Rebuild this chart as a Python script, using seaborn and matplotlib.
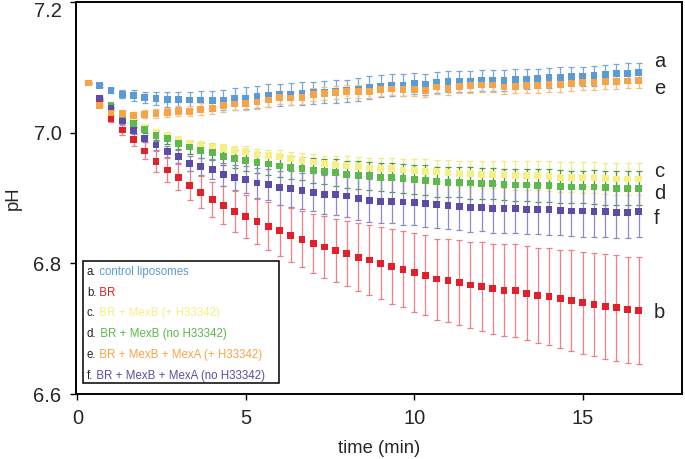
import numpy as np
import pandas as pd
import matplotlib
matplotlib.use("Agg")
import matplotlib.pyplot as plt
import seaborn as sns
from matplotlib.patches import Rectangle

sns.set_style("ticks")
plt.rcParams['font.family'] = ['Liberation Sans', 'DejaVu Sans']

# one reading every 20 s
time_min = np.arange(1, 51) / 3

# a. control liposomes
ph_a = [7.076, 7.072, 7.065, 7.059, 7.057, 7.054, 7.052, 7.051, 7.051, 7.050,
        7.050, 7.049, 7.050, 7.052, 7.053, 7.055, 7.057, 7.058, 7.059, 7.060,
        7.061, 7.062, 7.063, 7.064, 7.066, 7.069, 7.071, 7.073, 7.073, 7.075,
        7.074, 7.077, 7.078, 7.078, 7.078, 7.080, 7.080, 7.080, 7.082, 7.082,
        7.083, 7.084, 7.085, 7.086, 7.086, 7.087, 7.089, 7.090, 7.091, 7.092]
err_a = [0.000, 0.002, 0.004, 0.006, 0.008, 0.009, 0.010, 0.011, 0.012, 0.013,
         0.014, 0.015, 0.016, 0.017, 0.017, 0.017, 0.017, 0.017, 0.017, 0.017,
         0.017, 0.017, 0.017, 0.017, 0.017, 0.017, 0.017, 0.017, 0.017, 0.016,
         0.016, 0.016, 0.016, 0.016, 0.016, 0.016, 0.016, 0.016, 0.015, 0.015,
         0.015, 0.015, 0.015, 0.015, 0.015, 0.015, 0.015, 0.015, 0.015, 0.015]

# b. BR
ph_b = [7.076, 7.045, 7.021, 7.004, 6.989, 6.972, 6.956, 6.943, 6.932, 6.919,
        6.909, 6.898, 6.889, 6.879, 6.872, 6.864, 6.857, 6.850, 6.843, 6.837,
        6.830, 6.825, 6.820, 6.815, 6.809, 6.805, 6.800, 6.795, 6.791, 6.786,
        6.782, 6.776, 6.774, 6.771, 6.767, 6.764, 6.761, 6.759, 6.758, 6.754,
        6.751, 6.749, 6.746, 6.743, 6.740, 6.737, 6.734, 6.732, 6.729, 6.728]
err_b = [0.000, 0.003, 0.005, 0.007, 0.010, 0.013, 0.016, 0.018, 0.020, 0.022,
         0.024, 0.027, 0.029, 0.031, 0.033, 0.035, 0.037, 0.039, 0.041, 0.043,
         0.045, 0.047, 0.048, 0.050, 0.052, 0.054, 0.055, 0.057, 0.058, 0.060,
         0.061, 0.062, 0.064, 0.065, 0.066, 0.068, 0.069, 0.070, 0.071, 0.072,
         0.073, 0.074, 0.075, 0.077, 0.078, 0.079, 0.080, 0.081, 0.081, 0.082]

# c. BR + MexB (+ H33342)
ph_c = [7.076, 7.052, 7.042, 7.026, 7.016, 7.008, 7.001, 6.996, 6.990, 6.984,
        6.981, 6.978, 6.976, 6.973, 6.971, 6.967, 6.965, 6.963, 6.960, 6.958,
        6.955, 6.953, 6.951, 6.950, 6.948, 6.946, 6.945, 6.945, 6.943, 6.942,
        6.941, 6.940, 6.939, 6.938, 6.937, 6.936, 6.936, 6.936, 6.935, 6.935,
        6.934, 6.933, 6.932, 6.932, 6.931, 6.931, 6.930, 6.929, 6.929, 6.929]
err_c = [0.000, 0.002, 0.002, 0.003, 0.003, 0.004, 0.004, 0.005, 0.005, 0.005,
         0.006, 0.006, 0.006, 0.007, 0.008, 0.008, 0.009, 0.010, 0.010, 0.011,
         0.012, 0.012, 0.013, 0.014, 0.015, 0.015, 0.016, 0.016, 0.017, 0.017,
         0.018, 0.018, 0.019, 0.019, 0.020, 0.020, 0.021, 0.021, 0.022, 0.022,
         0.022, 0.023, 0.023, 0.023, 0.024, 0.024, 0.024, 0.025, 0.025, 0.025]

# d. BR + MexB (no H33342)
ph_d = [7.076, 7.050, 7.041, 7.025, 7.014, 7.005, 6.996, 6.991, 6.984, 6.978,
        6.973, 6.970, 6.964, 6.960, 6.957, 6.954, 6.952, 6.949, 6.947, 6.945,
        6.942, 6.940, 6.939, 6.936, 6.935, 6.934, 6.932, 6.931, 6.930, 6.928,
        6.927, 6.925, 6.924, 6.924, 6.923, 6.922, 6.922, 6.921, 6.920, 6.920,
        6.919, 6.919, 6.918, 6.917, 6.917, 6.917, 6.916, 6.915, 6.915, 6.915]
err_d = [0.000, 0.002, 0.003, 0.004, 0.005, 0.006, 0.007, 0.008, 0.009, 0.010,
         0.011, 0.012, 0.013, 0.014, 0.015, 0.016, 0.017, 0.017, 0.018, 0.018,
         0.019, 0.019, 0.020, 0.020, 0.021, 0.021, 0.021, 0.022, 0.022, 0.022,
         0.023, 0.023, 0.023, 0.023, 0.024, 0.024, 0.024, 0.024, 0.024, 0.025,
         0.025, 0.025, 0.025, 0.025, 0.025, 0.026, 0.026, 0.026, 0.026, 0.026]

# e. BR + MexB + MexA (+ H33342)
ph_e = [7.076, 7.042, 7.030, 7.029, 7.026, 7.028, 7.029, 7.031, 7.033, 7.033,
        7.036, 7.037, 7.042, 7.044, 7.045, 7.047, 7.050, 7.054, 7.053, 7.054,
        7.058, 7.060, 7.061, 7.063, 7.063, 7.063, 7.066, 7.067, 7.066, 7.066,
        7.065, 7.070, 7.068, 7.071, 7.072, 7.073, 7.073, 7.070, 7.071, 7.072,
        7.072, 7.074, 7.074, 7.075, 7.077, 7.077, 7.078, 7.078, 7.079, 7.080]
err_e = [0.000, 0.002, 0.003, 0.004, 0.005, 0.006, 0.007, 0.007, 0.008, 0.008,
         0.009, 0.009, 0.010, 0.010, 0.010, 0.010, 0.010, 0.010, 0.010, 0.010,
         0.010, 0.010, 0.010, 0.010, 0.010, 0.010, 0.010, 0.010, 0.010, 0.010,
         0.011, 0.011, 0.011, 0.011, 0.011, 0.011, 0.011, 0.011, 0.011, 0.011,
         0.011, 0.011, 0.011, 0.011, 0.011, 0.011, 0.011, 0.011, 0.011, 0.011]

# f. BR + MexB + MexA (no H33342)
ph_f = [7.076, 7.053, 7.037, 7.018, 7.003, 6.991, 6.981, 6.971, 6.964, 6.953,
        6.948, 6.944, 6.936, 6.931, 6.928, 6.923, 6.921, 6.916, 6.914, 6.911,
        6.909, 6.905, 6.905, 6.903, 6.899, 6.896, 6.895, 6.895, 6.894, 6.893,
        6.891, 6.890, 6.888, 6.887, 6.885, 6.886, 6.884, 6.884, 6.884, 6.883,
        6.883, 6.882, 6.881, 6.880, 6.880, 6.879, 6.879, 6.878, 6.878, 6.879]
err_f = [0.000, 0.002, 0.003, 0.004, 0.005, 0.006, 0.007, 0.008, 0.010, 0.011,
         0.013, 0.015, 0.017, 0.019, 0.021, 0.023, 0.024, 0.026, 0.027, 0.028,
         0.029, 0.030, 0.031, 0.032, 0.033, 0.033, 0.034, 0.034, 0.035, 0.035,
         0.035, 0.036, 0.036, 0.036, 0.037, 0.037, 0.037, 0.037, 0.038, 0.038,
         0.038, 0.038, 0.038, 0.038, 0.039, 0.039, 0.039, 0.039, 0.039, 0.039]

letters = ['a', 'b', 'c', 'd', 'e', 'f']
names = ['control liposomes', 'BR', 'BR + MexB (+ H33342)', 'BR + MexB (no H33342)',
         'BR + MexB + MexA (+ H33342)', 'BR + MexB + MexA (no H33342)']
values = {'a': ph_a, 'b': ph_b, 'c': ph_c, 'd': ph_d, 'e': ph_e, 'f': ph_f}
errors = {'a': err_a, 'b': err_b, 'c': err_c, 'd': err_d, 'e': err_e, 'f': err_f}
marker_colors = {'a': '#5B9BD5', 'b': '#E2202B', 'c': '#F6EF85',
                 'd': '#5DB94A', 'e': '#F7A448', 'f': '#5B4DA5'}
err_colors = {'a': '#7BA6DA', 'b': '#EF7F86', 'c': '#F1EA8A',
              'd': '#4E9A4A', 'e': '#F8BC7C', 'f': '#8F88C8'}
draw_order = ['a', 'c', 'd', 'b', 'f', 'e']
end_label_y = {'a': 7.109, 'e': 7.067, 'c': 6.940, 'd': 6.907, 'f': 6.869, 'b': 6.724}

fig = plt.figure(figsize=(6.85, 4.59), dpi=100)
ax = fig.add_axes([0.111, 0.1416, 0.8847, 0.854])

for s in draw_order:
    ax.errorbar(time_min, values[s], yerr=errors[s], fmt='none', ecolor=err_colors[s],
                elinewidth=0.9, capsize=2.3, capthick=0.9, zorder=2)

df = pd.concat([pd.DataFrame({'time': time_min, 'pH': values[s], 'cond': s}) for s in draw_order])
sns.scatterplot(data=df, x='time', y='pH', hue='cond', palette=marker_colors, marker='s',
                s=24, linewidth=0, legend=False, ax=ax, zorder=3)

for s in letters:
    ax.text(17.12, end_label_y[s], s, fontsize=14.5, va='center', ha='left')

ax.set_xlim(-0.04, 17.95)
ax.set_ylim(6.6, 7.2)
ax.set_xticks([0, 5, 10, 15])
ax.set_yticks([6.6, 6.8, 7.0, 7.2])
ax.set_yticklabels(['6.6', '6.8', '7.0', '7.2'])
ax.tick_params(direction='out', length=4, width=1, labelsize=14.5, pad=6.5, color='black')
ax.yaxis.get_major_ticks()[-1].label1.set_va('top')
for sp in ax.spines.values():
    sp.set_visible(True)
    sp.set_linewidth(1.4)
    sp.set_color('black')
ax.set_xlabel('time (min)', fontsize=13.3, labelpad=9)
ax.set_ylabel('pH', fontsize=13.3, labelpad=8)

# legend box
ax.add_patch(Rectangle((0.0116, 0.028), 0.324, 0.311, transform=ax.transAxes,
                       facecolor='white', edgecolor='black', linewidth=1.1, zorder=4))
for i, s in enumerate(letters):
    t = ax.text(0.018, 0.312 - i * 0.0532, s + '.', transform=ax.transAxes,
                fontsize=8.3, va='center', ha='left', color='#222222', zorder=5)
    ax.annotate(' ' + names[i], xy=(1, 0), xycoords=t, va='bottom', ha='left',
                fontsize=8.3, color=marker_colors[s], zorder=5)

fig.savefig('out.png', dpi=100)
